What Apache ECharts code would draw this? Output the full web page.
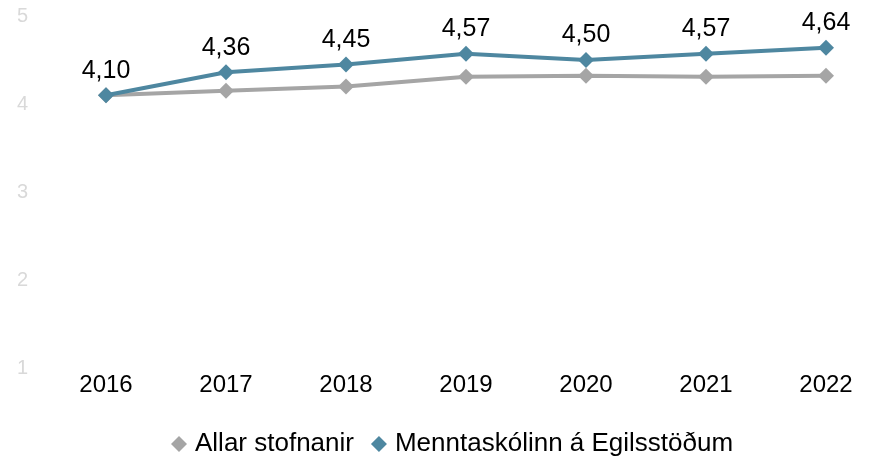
<!DOCTYPE html>
<html>
<head>
<meta charset="utf-8">
<script src="https://cdn.jsdelivr.net/npm/echarts@6/dist/echarts.min.js"></script>
<style>
  html, body { margin: 0; padding: 0; background: #fff; }
  #chart { width: 882px; height: 468px; }
</style>
</head>
<body>
<div id="chart"></div>
<script>
// values
const years = ['2016', '2017', '2018', '2019', '2020', '2021', '2022'];
const allarStofnanir = [4.10, 4.15, 4.20, 4.31, 4.32, 4.31, 4.32];
const menntaskolinn = [4.10, 4.36, 4.45, 4.57, 4.50, 4.57, 4.64];

const font = '"Liberation Sans", Arial, sans-serif';

let chart = echarts.init(document.getElementById('chart'));
chart.setOption({
  animation: false,
  textStyle: { fontFamily: font },
  grid: { left: 106, right: 56, top: 16, bottom: 100 },
  legend: {
    bottom: 6,
    left: 166,
    itemGap: 17,
    itemWidth: 16,
    itemHeight: 16,
    textStyle: { fontSize: 26, color: '#000', fontFamily: font, padding: [0, 0, 0, 3] },
    data: [
      { name: 'Allar stofnanir', icon: 'diamond' },
      { name: 'Menntaskólinn á Egilsstöðum', icon: 'diamond' }
    ]
  },
  xAxis: {
    type: 'category',
    data: years,
    boundaryGap: false,
    axisLine: { show: false },
    axisTick: { show: false },
    axisLabel: { fontSize: 24, color: '#000', margin: 5, fontFamily: font }
  },
  yAxis: {
    type: 'value',
    min: 1,
    max: 5,
    interval: 1,
    splitLine: { show: false },
    axisLine: { show: false },
    axisTick: { show: false },
    axisLabel: { fontSize: 20, color: '#d9d9d9', margin: 78, fontFamily: font }
  },
  series: [
    {
      name: 'Allar stofnanir',
      type: 'line',
      data: allarStofnanir,
      symbol: 'diamond',
      symbolSize: 16,
      color: '#a5a5a5',
      lineStyle: { width: 4, color: '#a5a5a5' },
      itemStyle: { color: '#a5a5a5' },
      z: 2
    },
    {
      name: 'Menntaskólinn á Egilsstöðum',
      type: 'line',
      data: menntaskolinn,
      symbol: 'diamond',
      symbolSize: 16,
      color: '#4e87a0',
      lineStyle: { width: 4, color: '#4e87a0' },
      itemStyle: { color: '#4e87a0' },
      label: {
        show: true,
        position: 'top',
        distance: 4,
        fontSize: 25,
        color: '#000',
        fontFamily: font,
        formatter: p => p.value.toFixed(2).replace('.', ',')
      },
      z: 3
    }
  ]
});
</script>
</body>
</html>
